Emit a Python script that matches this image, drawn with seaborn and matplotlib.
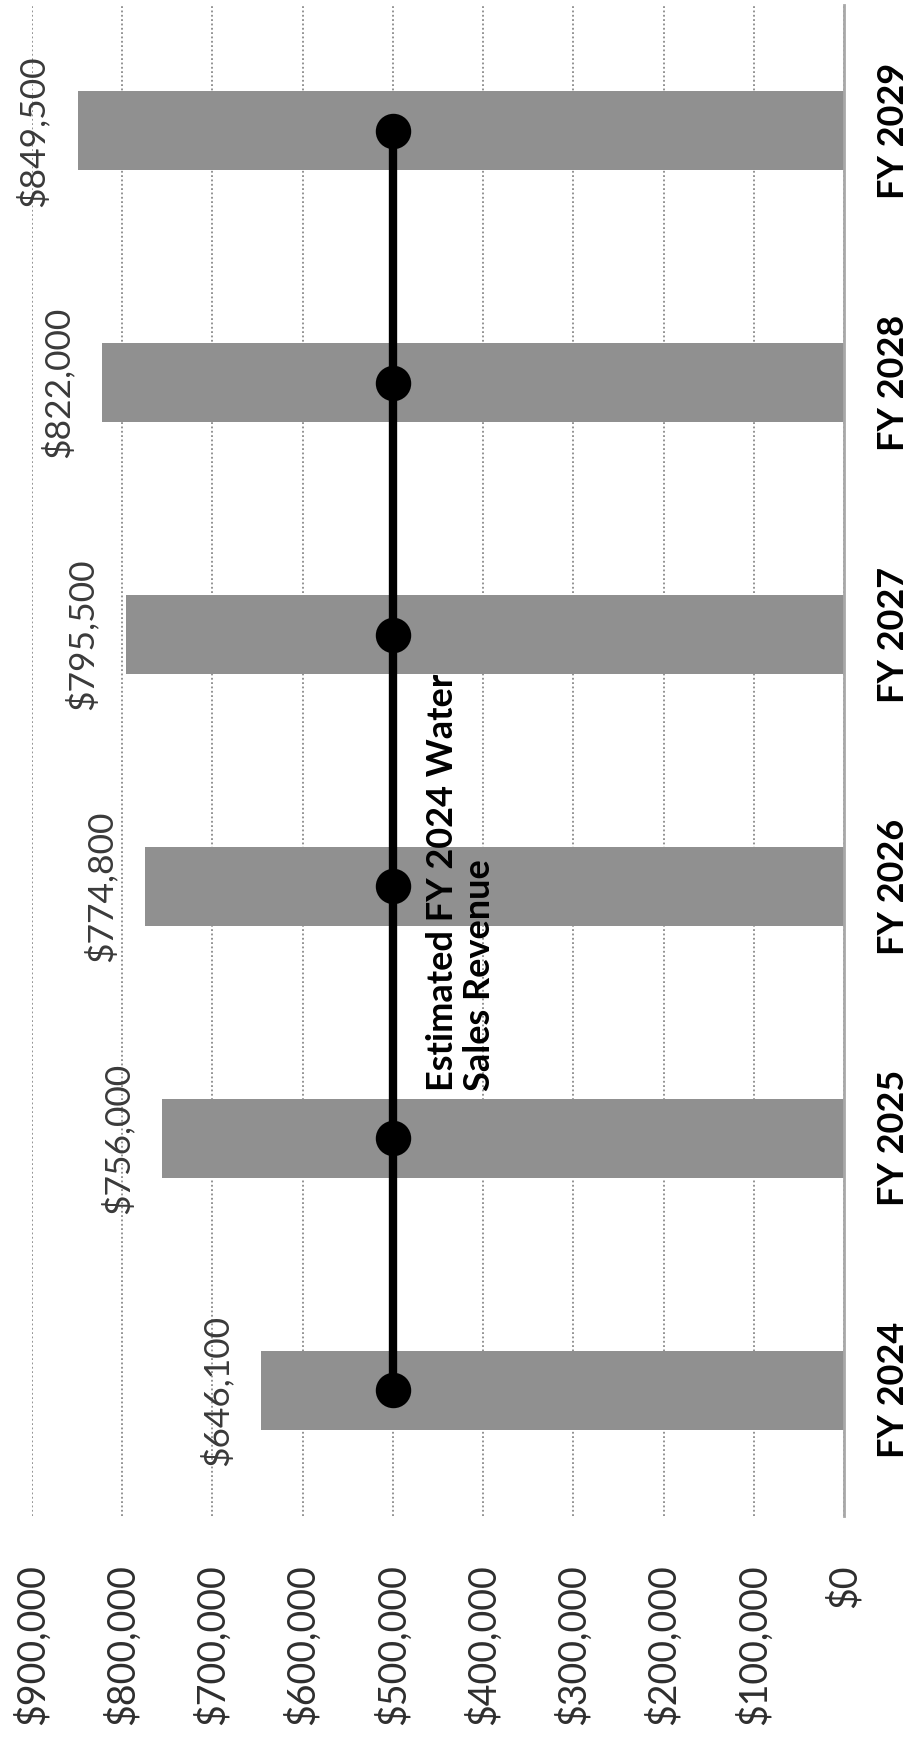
import matplotlib
matplotlib.use("Agg")
import matplotlib.pyplot as plt
import seaborn as sns
import pandas as pd
from matplotlib.ticker import FuncFormatter

# Projected water sales revenue by fiscal year
years = ["FY 2024", "FY 2025", "FY 2026", "FY 2027", "FY 2028", "FY 2029"]
projected_revenue = [646100, 756000, 774800, 795500, 822000, 849500]
# Estimated FY 2024 water sales revenue, carried across every year
fy2024_estimate = [500000, 500000, 500000, 500000, 500000, 500000]
value_ticks = [0, 100000, 200000, 300000, 400000, 500000, 600000, 700000, 800000, 900000]
estimate_label = "Estimated FY 2024 Water\nSales Revenue"

sns.set_theme(style="white")
plt.rcParams["font.family"] = ["Lato", "DejaVu Sans"]

W, H = 914, 1738
fig = plt.figure(figsize=(W / 100, H / 100), dpi=100)
# axes box in pixel terms: values run right-to-left, categories bottom-to-top
left_px, right_px, top_px, bottom_px = 32, 844, 5, 1516
ax = fig.add_axes([left_px / W, 1 - bottom_px / H,
                   (right_px - left_px) / W, (bottom_px - top_px) / H])

df = pd.DataFrame({"year": years,
                   "revenue": projected_revenue,
                   "estimate": fy2024_estimate})
order = years[::-1]

sns.barplot(data=df, x="revenue", y="year", order=order, orient="h",
            color="#909090", saturation=1, width=0.314, linewidth=0,
            ax=ax, zorder=2)
sns.pointplot(data=df, x="estimate", y="year", order=order, orient="h",
              color="black", markers="o", markersize=21, linewidth=6,
              errorbar=None, ax=ax, zorder=4)

ax.set_xlim(900000, 0)
ax.set_ylim(len(order) - 0.5, -0.5)
ax.set_xlabel("")
ax.set_ylabel("")

# value axis: dotted gridlines, labels underneath, reading upward
ax.set_xticks(value_ticks)
ax.xaxis.set_major_formatter(FuncFormatter(lambda v, _: f"${v:,.0f}"))
ax.grid(axis="x", linestyle=(0, (1, 1.4)), color="#8a8a8a", linewidth=1.3)
ax.grid(axis="y", visible=False)
ax.set_axisbelow(True)
ax.tick_params(axis="x", length=0, pad=35, labelrotation=90,
               labelsize=27, labelcolor="#2e2e2e")

# category labels on the far side of the zero line
ax.yaxis.tick_right()
ax.tick_params(axis="y", length=0, pad=24, labelrotation=90,
               labelsize=26, labelcolor="black")
for lbl in ax.get_yticklabels():
    lbl.set_fontweight("bold")
    lbl.set_va("center")

for side in ["left", "top", "bottom"]:
    ax.spines[side].set_visible(False)
ax.spines["right"].set_color("#a8a8a8")
ax.spines["right"].set_linewidth(2)

# value labels beyond each bar end
ax.bar_label(ax.containers[0], fmt=lambda v: f"${v:,.0f}", padding=20,
             rotation=90, fontsize=25.5, color="#3a3a3a")

# series name next to the estimate line
ax.annotate(estimate_label,
            xy=(fy2024_estimate[1], order.index("FY 2025")),
            xytext=(24, 34), textcoords="offset points",
            rotation=90, ha="left", va="bottom", multialignment="left",
            fontsize=26, fontweight="bold", color="black", linespacing=1.15,
            zorder=5)

fig.savefig("out.png", dpi=100, facecolor="white")
